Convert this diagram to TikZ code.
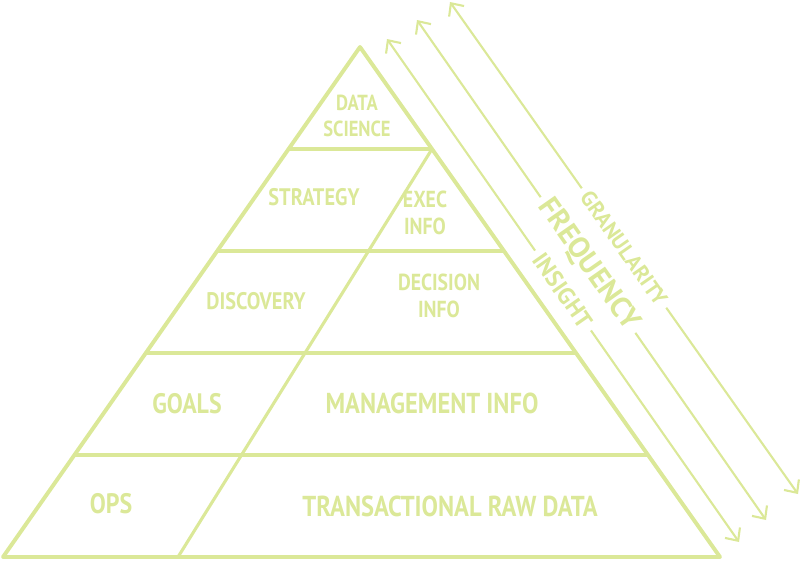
\documentclass[tikz,border=0pt]{standalone}
\usepackage{fontspec}
\setmainfont{PT Sans}
\usetikzlibrary{arrows.meta, calc}
\definecolor{chalk}{RGB}{219,232,152}

\begin{document}
\begin{tikzpicture}[x=0.025cm, y=-0.025cm,
  edge/.style={draw=chalk, line width=2.8pt, line join=round, line cap=round},
  band/.style={draw=chalk, line width=2.2pt, line cap=round},
  axis/.style={draw=chalk, line width=1.5pt, -{Straight Barb[length=7pt, width=13pt]}},
  lbl/.style={text=chalk, align=center, xscale=0.85, inner sep=0pt, font=\fontsize{#1}{19}\selectfont\bfseries},
  lbl/.default=20.5,
  tag/.style={text=chalk, rotate=-55, inner sep=4pt, font=\fontsize{#1}{19}\selectfont\bfseries}]
\useasboundingbox (0,0) rectangle (800,562);

% Pyramid outline and bands
\coordinate (apex) at (360,47);
\coordinate (bl) at (3,557);
\coordinate (br) at (720,557);
\coordinate (split) at (178,557);
\draw[edge] (apex) -- (bl) -- (br) -- cycle;
\foreach \t in {0.2,0.4,0.6,0.8}
  \draw[band] ($(apex)!\t!(bl)$) -- ($(apex)!\t!(br)$);
\draw[band] ($(apex)!0.2!(br)$) -- (split);

% Left column
\node[lbl=15.5] (sci) at (357,116) {DATA\\SCIENCE};
\node[lbl=17] (strat) at (314,197) {STRATEGY};
\node[lbl=17] (disc) at (256,301) {DISCOVERY};
\node[lbl=20] (goals) at (187,404) {GOALS};
\node[lbl=20] (ops) at (111,504) {OPS};

% Right column
\node[lbl=16.5] (exec) at (425,213) {EXEC\\INFO};
\node[lbl=16.5] (dec) at (439,296) {DECISION\\INFO};
\node[lbl] (mgmt) at (432,403) {MANAGEMENT INFO};
\node[lbl] (raw) at (450,506) {TRANSACTIONAL RAW DATA};

% Insight
\coordinate (insT) at (387,39);
\coordinate (insB) at (739,542);
\node[tag=17] (ins) at ($(insT)!0.5!(insB)$) {INSIGHT};
\draw[axis] (ins) -- (insT);
\draw[axis] (ins) -- (insB);

% Frequency
\coordinate (freqT) at (417,20);
\coordinate (freqB) at (766,520);
\node[tag=21] (freq) at ($(freqT)!0.49!(freqB)$) {FREQUENCY};
\draw[axis] (freq) -- (freqT);
\draw[axis] (freq) -- (freqB);

% Granularity
\coordinate (granT) at (450,2);
\coordinate (granB) at (798,494);
\node[tag=15.5] (gran) at ($(granT)!0.5!(granB)$) {GRANULARITY};
\draw[axis] (gran) -- (granT);
\draw[axis] (gran) -- (granB);
\end{tikzpicture}
\end{document}
